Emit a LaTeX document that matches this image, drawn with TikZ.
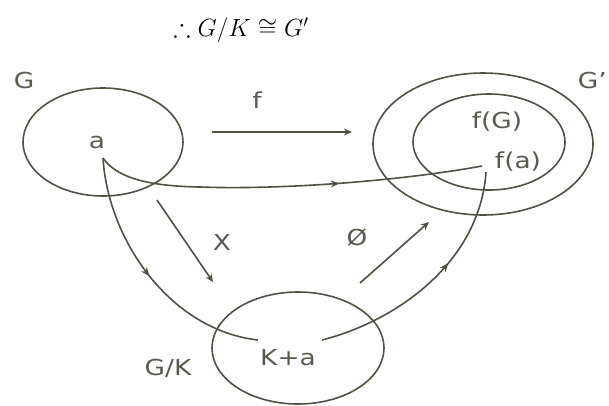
\documentclass[tikz,border=0pt]{standalone}
\usepackage{amssymb}
\usepackage{fontspec}
\setsansfont{DejaVu Sans}[FakeStretch=1.2]
\usetikzlibrary{arrows.meta,shapes.geometric,decorations.markings}
\definecolor{lc}{RGB}{78,82,64}
\definecolor{tc}{RGB}{88,92,78}
\tikzset{
  setshape/.style={draw=lc, line width=1.6pt, ellipse, inner sep=0pt},
  lbl/.style={text=tc, font=\sffamily\fontsize{22}{26}\selectfont, inner sep=0pt},
  conn/.style={draw=lc, line width=1.6pt},
  arr/.style={conn, -{Stealth[length=8pt,width=7pt]}},
  midarrow/.style={postaction={decorate}, decoration={markings,
      mark=at position #1 with {\arrow[lc]{Stealth[length=9pt,width=7pt]}}}},
}
\begin{document}
\begin{tikzpicture}[x=1pt,y=-1pt]
\useasboundingbox (0,0) rectangle (609,405);
% title
\node[font=\fontsize{26}{31}\selectfont, inner sep=0pt] (title) at (241,30) {$\therefore G/K \cong G'$};
% sets
\node[setshape, minimum width=160pt, minimum height=108pt] (Gset) at (103,142) {};
\node[setshape, minimum width=220pt, minimum height=142pt] (Gpset) at (483,144) {};
\node[setshape, minimum width=152pt, minimum height=96pt] (fGset) at (489,142) {};
\node[setshape, minimum width=172pt, minimum height=112pt] (Kset) at (298,348) {};
% labels
\node[lbl] (Glbl) at (24,80) {G};
\node[lbl, anchor=east] (Gplbl) at (607,80) {G’};
\node[lbl] (alb) at (97,142) {a};
\node[lbl] (flbl) at (257,100) {f};
\node[lbl] (fGlbl) at (497,122) {f(G)};
\node[lbl] (falbl) at (518,162) {f(a)};
\node[lbl] (Xlbl) at (222,242) {X};
\node[lbl] (philbl) at (357,237) {Ø};
\node[lbl] (Kalbl) at (288,358) {K+a};
\node[lbl] (GKlbl) at (168,368) {G/K};
% end points
\coordinate (fs) at (212,132);
\coordinate (fe) at (352,132);
\coordinate (xs) at (157,200);
\coordinate (xe) at (213,282);
\coordinate (ps) at (360,283);
\coordinate (pe) at (429,222);
\coordinate (acusp) at (103,158);
\coordinate (famid) at (200,187);
\coordinate (faend) at (482,166);
\coordinate (kaL) at (258,340);
\coordinate (kaR) at (322,340);
\coordinate (faV) at (486,172);
% straight arrows
\draw[arr] (fs) -- (fe);
\draw[arr] (xs) -- (xe);
\draw[arr] (ps) -- (pe);
% curves
\draw[conn, midarrow=0.63] (acusp) .. controls (115,175) and (140,186) .. (famid)
  .. controls (280,190) and (400,181) .. (faend);
\draw[conn, midarrow=0.5] (acusp) .. controls (108,240) and (170,330) .. (kaL);
\draw[conn, midarrow=0.6] (kaR) .. controls (400,320) and (480,260) .. (faV);
\end{tikzpicture}
\end{document}
